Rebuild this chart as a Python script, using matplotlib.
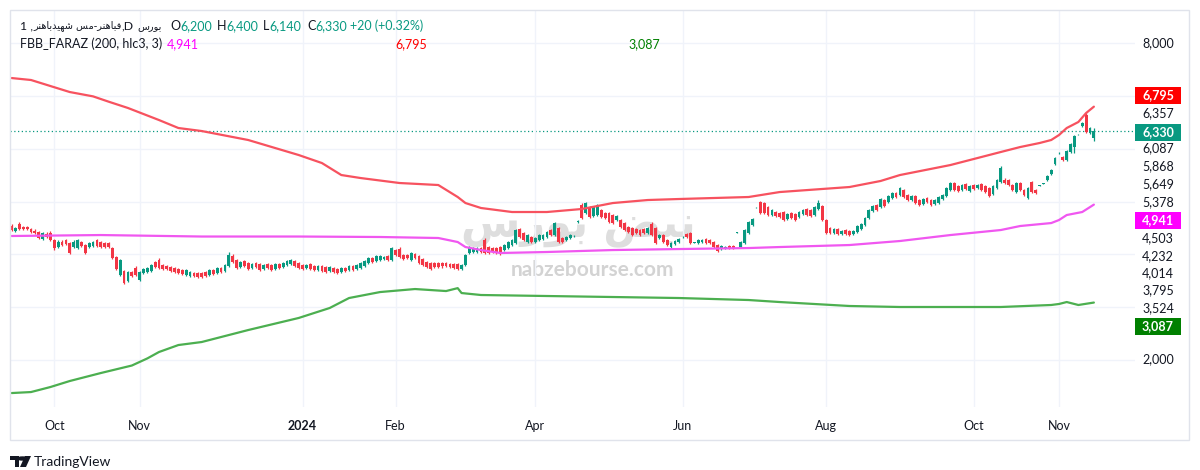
import numpy as np
import matplotlib
matplotlib.use("Agg")
import matplotlib.pyplot as plt
import matplotlib.transforms as mtransforms
from matplotlib.patches import Rectangle, Circle, Polygon

plt.rcParams['font.family'] = ['Lato', 'DejaVu Sans']

# ---------------- data ----------------
symbol_name = "فباهنر-مس شهیدباهنر"
exchange = "بورس"
interval = "D"
last_ohlc = {"O": "6,200", "H": "6,400", "L": "6,140", "C": "6,330"}
change_txt = "+20 (+0.32%)"
indicator_name = "FBB_FARAZ (200, hlc3, 3)"
upper_last, mid_last, lower_last, close_last = 6795, 4941, 3087, 6330

month_idx = [11, 33, 75, 99, 135, 173, 210, 248, 270]
month_lbl = ['Oct', 'Nov', '2024', 'Feb', 'Apr', 'Jun', 'Aug', 'Oct', 'Nov']

opens = [4540, 4440, 4570, 4520, 4520, 4480, 4440, 4420, 4290, 4380,
         4400, 4270, 4140, 4230, 4270, 4210, 4140, 4120, 4230, 4180,
         4140, 4160, 4270, 4230, 4210, 4210, 4120, 3950, 3610, 3680,
         3500, 3670, 3740, 3510, 3650, 3670, 3680, 3850, 3890, 3800,
         3780, 3760, 3740, 3720, 3700, 3610, 3590, 3650, 3650, 3650,
         3670, 3610, 3700, 3650, 3740, 3680, 3780, 3970, 3890, 3760,
         3870, 3840, 3740, 3840, 3820, 3720, 3820, 3800, 3720, 3820,
         3760, 3800, 3820, 3870, 3840, 3800, 3740, 3820, 3780, 3700,
         3780, 3760, 3680, 3740, 3720, 3670, 3740, 3700, 3780, 3720,
         3740, 3780, 3840, 3930, 3870, 3890, 3910, 3970, 3890, 4080,
         4100, 3990, 3990, 3890, 4010, 3970, 3910, 3850, 3840, 3840,
         3840, 3840, 3840, 3820, 3820, 3820, 3720, 3800, 4030, 4040,
         4040, 4120, 4270, 4140, 4120, 4120, 4140, 4080, 4120, 4180,
         4210, 4480, 4400, 4230, 4330, 4230, 4270, 4290, 4330, 4460,
         4370, 4500, 4310, 4270, 4310, 4340, 4610, 4930, 4780, 4900,
         4730, 4740, 4840, 4780, 4780, 4740, 4650, 4650, 4590, 4520,
         4500, 4480, 4460, 4480, 4400, 4570, 4500, 4310, 4370, 4270,
         4140, 4200, 4230, 4320, 4380, 4400, 4220, 4210, 4230, 4290,
         4270, 4230, 4180, 4100, 4120, 4160, 4160, 4410, 4140, 4210,
         4400, 4560, 4890, 4990, 4970, 4900, 4740, 4800, 4780, 4800,
         4670, 4780, 4760, 4710, 4760, 4860, 4840, 4740, 4860, 4910,
         4650, 4500, 4400, 4480, 4380, 4460, 4440, 4380, 4420, 4480,
         4560, 4690, 4820, 4930, 4900, 5030, 4990, 5070, 5160, 5120,
         5220, 5120, 5030, 5100, 5030, 4950, 5070, 5030, 4950, 4970,
         5050, 5100, 5220, 5350, 5290, 5220, 5330, 5200, 5310, 5260,
         5330, 5290, 5260, 5140, 5260, 5370, 5410, 5410, 5310, 5180,
         5350, 5220, 5070, 5370, 5220, 5300, 5340, 5410, 5520, 5710,
         5910, 5840, 5790, 5940, 6030, 6270, 6430, 6640, 6300, 6200]

highs = [4570, 4520, 4610, 4540, 4540, 4500, 4480, 4440, 4420, 4420,
         4440, 4290, 4270, 4270, 4290, 4230, 4270, 4290, 4250, 4200,
         4230, 4250, 4290, 4250, 4230, 4230, 4140, 3970, 3910, 3700,
         3680, 3680, 3780, 3680, 3740, 3760, 3820, 3870, 3930, 3820,
         3800, 3780, 3760, 3740, 3720, 3720, 3680, 3670, 3670, 3670,
         3680, 3720, 3720, 3760, 3760, 3820, 4040, 4010, 3910, 3870,
         3890, 3850, 3840, 3850, 3840, 3820, 3840, 3820, 3840, 3840,
         3850, 3890, 3910, 3890, 3850, 3820, 3820, 3840, 3800, 3800,
         3800, 3780, 3780, 3760, 3740, 3760, 3760, 3800, 3800, 3820,
         3850, 3890, 3950, 3950, 3990, 3990, 3970, 3990, 4140, 4100,
         4140, 4010, 4010, 4040, 4030, 3990, 3930, 3870, 3850, 3850,
         3850, 3850, 3850, 3840, 3840, 3840, 3820, 4010, 4160, 4140,
         4140, 4140, 4310, 4160, 4140, 4140, 4160, 4200, 4250, 4290,
         4480, 4500, 4420, 4380, 4350, 4330, 4380, 4380, 4440, 4480,
         4610, 4520, 4330, 4350, 4380, 4370, 4650, 4970, 4990, 4910,
         4910, 4950, 4860, 4800, 4800, 4760, 4740, 4670, 4610, 4540,
         4520, 4500, 4480, 4500, 4520, 4610, 4520, 4380, 4380, 4290,
         4230, 4270, 4310, 4340, 4400, 4420, 4230, 4290, 4290, 4310,
         4290, 4250, 4200, 4180, 4160, 4180, 4180, 4420, 4250, 4480,
         4630, 4690, 4900, 5010, 4990, 4910, 4860, 4820, 4800, 4820,
         4780, 4800, 4780, 4820, 4860, 4880, 4860, 4910, 5030, 4930,
         4670, 4520, 4500, 4500, 4460, 4480, 4460, 4460, 4560, 4590,
         4710, 4860, 4930, 4950, 5070, 5050, 5120, 5180, 5180, 5270,
         5240, 5140, 5120, 5120, 5050, 5070, 5090, 5050, 5050, 5100,
         5140, 5270, 5370, 5370, 5310, 5330, 5350, 5310, 5330, 5330,
         5350, 5310, 5270, 5310, 5430, 5670, 5440, 5430, 5330, 5370,
         5370, 5240, 5270, 5390, 5240, 5310, 5350, 5500, 5620, 5840,
         5940, 5860, 5980, 6110, 6260, 6280, 6510, 6680, 6410, 6400]

lows = [4440, 4420, 4460, 4460, 4460, 4400, 4380, 4290, 4270, 4310,
        4250, 4080, 4120, 4160, 4180, 4010, 4120, 4100, 4140, 4010,
        4120, 4140, 4140, 4120, 4120, 4120, 3910, 3700, 3590, 3440,
        3480, 3570, 3590, 3500, 3630, 3650, 3670, 3740, 3720, 3700,
        3700, 3670, 3650, 3630, 3610, 3590, 3570, 3570, 3550, 3550,
        3570, 3590, 3610, 3630, 3650, 3670, 3760, 3840, 3720, 3740,
        3760, 3700, 3720, 3740, 3680, 3700, 3720, 3680, 3700, 3720,
        3740, 3780, 3800, 3760, 3720, 3700, 3720, 3700, 3680, 3680,
        3670, 3650, 3670, 3650, 3630, 3650, 3670, 3680, 3680, 3700,
        3720, 3760, 3820, 3840, 3850, 3870, 3890, 3870, 3870, 3970,
        3930, 3890, 3910, 3870, 3910, 3820, 3780, 3740, 3700, 3740,
        3740, 3740, 3760, 3740, 3720, 3700, 3700, 3780, 4010, 4030,
        4030, 4030, 4010, 4010, 4030, 4010, 3990, 4060, 4100, 4160,
        4200, 4310, 4250, 4210, 4210, 4210, 4250, 4270, 4310, 4350,
        4350, 4210, 4210, 4250, 4290, 4330, 4600, 4670, 4760, 4690,
        4710, 4730, 4690, 4670, 4590, 4570, 4630, 4500, 4440, 4400,
        4350, 4380, 4350, 4380, 4380, 4350, 4200, 4290, 4210, 4160,
        4120, 4180, 4210, 4310, 4310, 4200, 4210, 4200, 4210, 4200,
        4200, 4120, 4040, 4080, 4100, 4100, 4100, 4400, 4120, 4200,
        4380, 4540, 4880, 4760, 4760, 4730, 4730, 4710, 4690, 4630,
        4650, 4670, 4630, 4690, 4740, 4730, 4710, 4730, 4840, 4630,
        4380, 4380, 4380, 4370, 4370, 4370, 4350, 4370, 4400, 4460,
        4540, 4670, 4800, 4820, 4880, 4900, 4970, 5050, 5070, 5100,
        5070, 5010, 5010, 4950, 4910, 4930, 4970, 4910, 4930, 4950,
        5030, 5090, 5200, 5200, 5180, 5200, 5220, 5180, 5220, 5240,
        5200, 5160, 5090, 5120, 5240, 5350, 5330, 5290, 5200, 5160,
        5200, 5100, 5050, 5160, 5140, 5290, 5330, 5390, 5500, 5690,
        5900, 5770, 5770, 5920, 5920, 6260, 6410, 6290, 6280, 6140]

closes = [4460, 4500, 4480, 4480, 4480, 4420, 4400, 4310, 4400, 4330,
          4270, 4120, 4230, 4180, 4200, 4030, 4230, 4270, 4160, 4030,
          4210, 4230, 4160, 4140, 4140, 4140, 3930, 3720, 3890, 3460,
          3670, 3590, 3610, 3670, 3720, 3740, 3800, 3760, 3740, 3720,
          3720, 3680, 3670, 3650, 3630, 3700, 3670, 3590, 3570, 3570,
          3590, 3700, 3630, 3740, 3670, 3800, 3990, 3850, 3740, 3850,
          3780, 3720, 3820, 3760, 3700, 3800, 3740, 3700, 3820, 3740,
          3840, 3870, 3890, 3780, 3740, 3720, 3800, 3720, 3700, 3780,
          3680, 3670, 3760, 3670, 3650, 3740, 3680, 3780, 3700, 3800,
          3840, 3870, 3930, 3850, 3970, 3970, 3950, 3890, 4120, 3990,
          3950, 3910, 3930, 4030, 3930, 3840, 3800, 3760, 3720, 3760,
          3760, 3780, 3780, 3760, 3740, 3720, 3800, 3990, 4140, 4120,
          4120, 4040, 4030, 4030, 4040, 4030, 4010, 4180, 4230, 4270,
          4460, 4330, 4270, 4370, 4230, 4310, 4370, 4370, 4420, 4370,
          4590, 4230, 4230, 4330, 4370, 4350, 4620, 4690, 4970, 4710,
          4900, 4930, 4710, 4690, 4610, 4590, 4730, 4520, 4460, 4420,
          4370, 4400, 4370, 4400, 4500, 4370, 4210, 4370, 4230, 4180,
          4210, 4250, 4290, 4330, 4330, 4210, 4230, 4270, 4270, 4210,
          4210, 4140, 4060, 4160, 4140, 4120, 4120, 4420, 4230, 4460,
          4610, 4670, 4900, 4780, 4780, 4740, 4840, 4730, 4710, 4650,
          4760, 4690, 4650, 4800, 4840, 4740, 4730, 4900, 4970, 4650,
          4400, 4400, 4480, 4380, 4440, 4380, 4370, 4440, 4540, 4570,
          4690, 4840, 4910, 4840, 5050, 4910, 5100, 5160, 5090, 5260,
          5090, 5030, 5100, 4970, 4930, 5050, 4990, 4930, 5030, 5090,
          5120, 5260, 5350, 5220, 5200, 5310, 5240, 5290, 5240, 5310,
          5220, 5180, 5100, 5290, 5410, 5630, 5350, 5310, 5220, 5350,
          5220, 5120, 5260, 5180, 5160, 5310, 5350, 5480, 5600, 5820,
          5920, 5790, 5960, 6090, 6240, 6280, 6490, 6310, 6390, 6330]

upper_idx = [0, 5, 10, 15, 21, 25, 30, 38, 43, 49, 61, 74, 80, 85, 90, 100, 110, 115,
             117, 121, 129, 138, 147, 155, 164, 172, 181, 190, 198, 216, 224, 229, 242,
             255, 260, 265, 268, 270, 272, 275, 277, 279]
upper_val = [7337, 7300, 7186, 7072, 6990, 6890, 6770, 6542, 6391, 6334, 6164, 5880, 5728,
             5501, 5444, 5350, 5312, 5085, 4971, 4877, 4801, 4801, 4858, 4971, 5028, 5047,
             5066, 5085, 5179, 5274, 5388, 5501, 5690, 5937, 6031, 6107, 6164, 6258, 6391,
             6505, 6675, 6795]

mid_idx = [0, 23, 49, 74, 95, 110, 115, 117, 121, 126, 138, 155, 172, 190, 198, 216, 229,
           242, 255, 260, 268, 270, 272, 276, 279]
mid_val = [4347, 4365, 4337, 4337, 4328, 4309, 4233, 4138, 4081, 4025, 4044, 4081, 4100,
           4119, 4138, 4176, 4252, 4365, 4460, 4536, 4592, 4649, 4744, 4801, 4941]

lower_idx = [0, 5, 10, 15, 23, 31, 35, 38, 43, 49, 61, 74, 82, 87, 95, 104, 112, 115, 116,
             121, 138, 155, 172, 190, 198, 216, 229, 242, 255, 268, 270, 272, 275, 279]
lower_val = [1374, 1393, 1488, 1602, 1753, 1895, 2030, 2151, 2283, 2340, 2567, 2795, 2984,
             3173, 3286, 3343, 3305, 3360, 3267, 3230, 3211, 3192, 3173, 3135, 3097, 3022,
             3003, 3003, 3003, 3041, 3060, 3097, 3041, 3087]

grid_levels = [2000, 3000, 4000, 5000, 6000, 7000, 8000]
axis_label_text = ['8,000', '6,357', '6,087', '5,868', '5,649', '5,378',
                   '4,503', '4,232', '4,014', '3,795', '3,524', '2,000']
axis_label_at = [8000, 6665, 6003, 5672, 5331, 4990, 4309, 3968, 3646, 3324, 2984, 2018]
# where the coloured last-value tags sit on the price scale
tag_at = {'upper': 7006, 'close': 6315, 'mid': 4640, 'lower': 2633}

# ---------------- styles ----------------
UP, DN = '#089981', '#f23645'
RED, MAG, GRN = '#f7525f', '#f057f0', '#4caf50'
TAG_RED, TAG_MAG, TAG_GRN = '#ff0000', '#ff00ff', '#008000'
TXT = '#131722'
GRID = '#f0f3fa'
BORDER = '#e0e3eb'

# ---------------- minimal Arabic shaping (visual order) ----------------
AR_FORMS = {
    'ا': ('\uFE8D', '\uFE8E', None, None),
    'ب': ('\uFE8F', '\uFE90', '\uFE91', '\uFE92'),
    'د': ('\uFEA9', '\uFEAA', None, None),
    'ر': ('\uFEAD', '\uFEAE', None, None),
    'س': ('\uFEB1', '\uFEB2', '\uFEB3', '\uFEB4'),
    'ش': ('\uFEB5', '\uFEB6', '\uFEB7', '\uFEB8'),
    'ض': ('\uFEBD', '\uFEBE', '\uFEBF', '\uFEC0'),
    'ف': ('\uFED1', '\uFED2', '\uFED3', '\uFED4'),
    'م': ('\uFEE1', '\uFEE2', '\uFEE3', '\uFEE4'),
    'ن': ('\uFEE5', '\uFEE6', '\uFEE7', '\uFEE8'),
    'ه': ('\uFEE9', '\uFEEA', '\uFEEB', '\uFEEC'),
    'و': ('\uFEED', '\uFEEE', None, None),
    'ی': ('\uFEEF', '\uFEF0', '\uFEF3', '\uFEF4'),
}


def shape(text):
    out = []
    n = len(text)
    for k, ch in enumerate(text):
        f = AR_FORMS.get(ch)
        if f is None:
            out.append(ch)
            continue
        prev = text[k - 1] if k > 0 else None
        nxt = text[k + 1] if k < n - 1 else None
        jp = prev in AR_FORMS and AR_FORMS[prev][2] is not None
        jn = nxt in AR_FORMS and f[2] is not None
        if jp and jn:
            out.append(f[3])
        elif jp:
            out.append(f[1])
        elif jn:
            out.append(f[2])
        else:
            out.append(f[0])
    return ''.join(reversed(out))


# ---------------- figure ----------------
W, H = 1200, 470
fig = plt.figure(figsize=(W / 100, H / 100), dpi=100)
fig.patch.set_facecolor('white')


def fx(px):
    return px / W


def fy(py):
    return 1 - py / H


ax = fig.add_axes([fx(10), fy(407), fx(1135) - fx(10), fy(10) - fy(407)])
ax.set_facecolor('white')
ax.set_xlim(-0.41, 289.6)
ax.set_ylim(1110, 8625)
for s in ax.spines.values():
    s.set_visible(False)
ax.set_yticks([])
ax.set_xticks(month_idx)
ax.set_xticklabels(month_lbl)
ax.tick_params(axis='x', length=0, pad=9, labelsize=9, labelcolor=TXT)
for t in ax.get_xticklabels():
    if t.get_text() == '2024':
        t.set_fontweight('bold')
ax.grid(axis='x', color=GRID, lw=1)
for g in grid_levels:
    ax.axhline(g, color=GRID, lw=1, zorder=0)

# watermark
ax.text(0.505, 0.455, shape("نبض بورس"), transform=ax.transAxes, fontsize=31,
        fontweight='bold', color='#dedede', ha='center', va='center', zorder=1,
        family=['DejaVu Sans'])
ax.text(0.518, 0.345, "nabzebourse.com", transform=ax.transAxes, fontsize=15,
        fontweight='bold', color='#d3d3d3', ha='center', va='center', zorder=1)

# candles
o = np.array(opens, float)
h = np.array(highs, float)
l = np.array(lows, float)
c = np.array(closes, float)
idx = np.arange(len(c))
up = c >= o
cols = np.where(up, UP, DN)
body_lo = np.minimum(o, c)
body_h = np.maximum(np.abs(c - o), 14)
ax.vlines(idx, l, h, colors=cols, lw=0.9, zorder=2)
ax.bar(idx, body_h, bottom=body_lo, width=0.72, color=cols, linewidth=0, zorder=2)

# bands
ax.plot(upper_idx, upper_val, color=RED, lw=1.6, zorder=3, solid_capstyle='round')
ax.plot(mid_idx, mid_val, color=MAG, lw=1.6, zorder=3, solid_capstyle='round')
ax.plot(lower_idx, lower_val, color=GRN, lw=1.6, zorder=3, solid_capstyle='round')

# last price dotted line
ax.axhline(close_last, color=UP, lw=0.9, ls=(0, (1, 2)), zorder=1.5)

# price scale labels
trans = mtransforms.blended_transform_factory(ax.transAxes, ax.transData)
xc = (1158 - 10) / 1125
for lab, pos in zip(axis_label_text, axis_label_at):
    ax.text(xc, pos, lab, transform=trans, ha='center', va='center', fontsize=9,
            color=TXT, clip_on=False)

box_w = 46 / 1125
box_h = 17 * (8625 - 1110) / 397
tags = [(f"{upper_last:,}", tag_at['upper'], TAG_RED),
        (f"{close_last:,}", tag_at['close'], UP),
        (f"{mid_last:,}", tag_at['mid'], TAG_MAG),
        (f"{lower_last:,}", tag_at['lower'], TAG_GRN)]
for txt, pos, colr in tags:
    ax.add_patch(Rectangle((1.0, pos - box_h / 2), box_w, box_h, transform=trans,
                           fc=colr, ec='none', clip_on=False, zorder=5))
    ax.text(xc, pos, txt, transform=trans, ha='center', va='center', fontsize=9,
            color='white', fontweight='bold', clip_on=False, zorder=6)

# legend (top-left)
def chain(prev, text, size, color, family=None, gap=0):
    kw = dict(xy=(1, 0.5), xycoords=prev, va='center', ha='left', fontsize=size,
              color=color, annotation_clip=False, xytext=(gap, 0), textcoords='offset points')
    if family:
        kw['family'] = family
    return ax.annotate(text, **kw)

t = fig.text(fx(20), fy(26), "1 ,", fontsize=8.8, color=TXT, va='center', ha='left')
t = chain(t, shape(symbol_name), 7.0, TXT, family=['DejaVu Sans'])
t = chain(t, "," + interval, 8.8, TXT)
t = chain(t, shape(exchange), 7.0, TXT, family=['DejaVu Sans'], gap=3)

ohlc_x = {'O': 170, 'H': 217, 'L': 263, 'C': 307}
for k, v in last_ohlc.items():
    t1 = fig.text(fx(ohlc_x[k]), fy(26), k, fontsize=9, color=TXT, va='center', ha='left')
    chain(t1, v, 9, UP)
fig.text(fx(350), fy(26), change_txt, fontsize=9, color=UP, va='center', ha='left')

fig.text(fx(20), fy(44), indicator_name, fontsize=9, color=TXT, va='center', ha='left')
fig.text(fx(167), fy(44), f"{mid_last:,}", fontsize=9, color=TAG_MAG, va='center', ha='left')
fig.text(fx(395), fy(44), f"{upper_last:,}", fontsize=9, color=TAG_RED, va='center', ha='left')
fig.text(fx(628), fy(44), f"{lower_last:,}", fontsize=9, color=TAG_GRN, va='center', ha='left')

# outer frame
fig.add_artist(Rectangle((fx(10), fy(440)), fx(1189) - fx(10), fy(10) - fy(440),
                         transform=fig.transFigure, fill=False, ec=BORDER, lw=1))

# TradingView logo
def P(x, y):
    return (fx(x), fy(y))

fig.add_artist(Polygon([P(10, 456), P(19, 456), P(19, 467), P(15, 467), P(15, 460), P(10, 460)],
                       closed=True, transform=fig.transFigure, fc=TXT, ec='none'))
fig.add_artist(Polygon([P(25, 456), P(31, 456), P(26, 467), P(20, 467)],
                       closed=True, transform=fig.transFigure, fc=TXT, ec='none'))
fig.add_artist(Circle(P(22.5, 458.5), 2.2 / H, transform=fig.transFigure, fc=TXT, ec='none'))
fig.text(fx(34), fy(462), "TradingView", fontsize=10, color=TXT, va='center', ha='left')

fig.savefig("out.png", dpi=100, facecolor='white')
